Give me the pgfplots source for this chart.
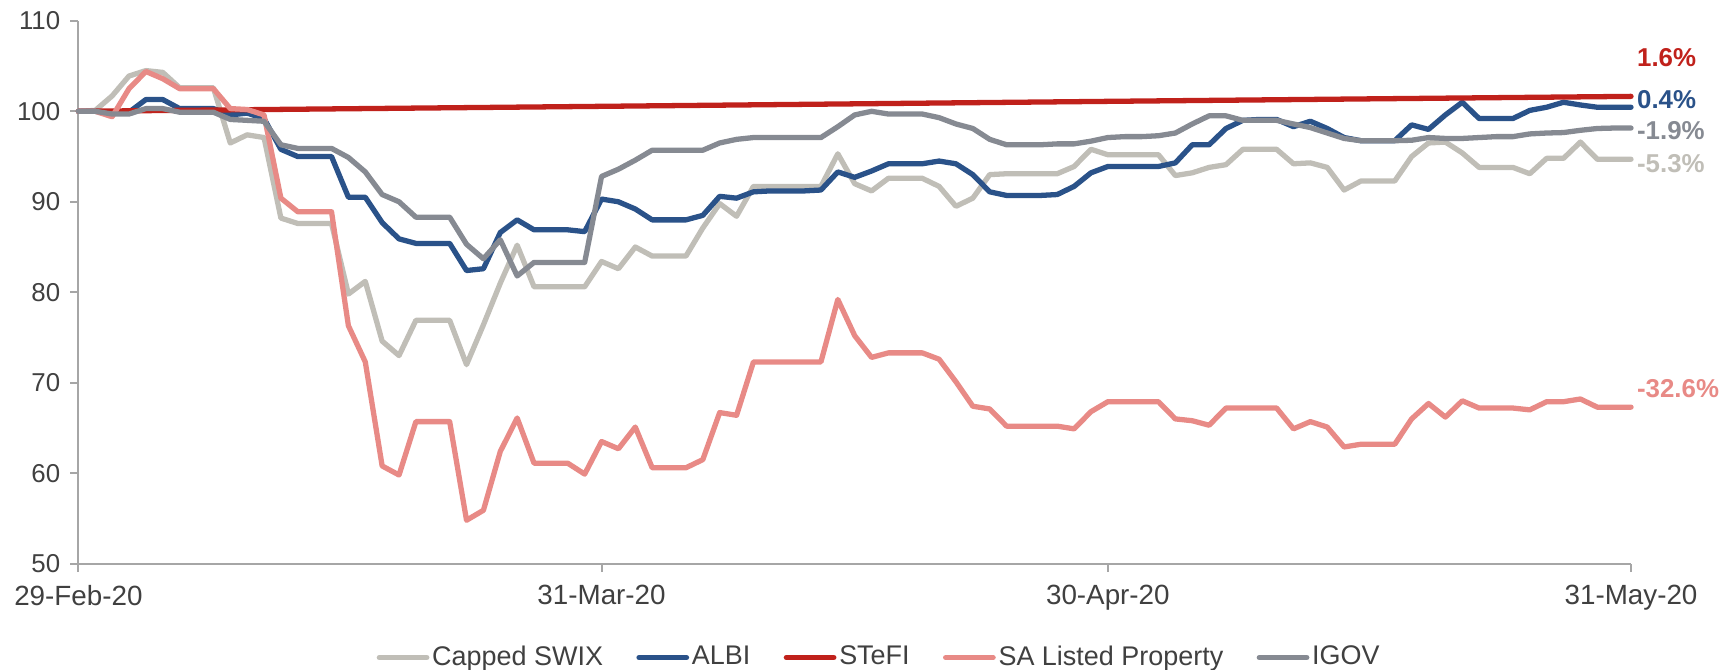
\documentclass[border=0pt]{standalone}
\usepackage{fontspec}
\setmainfont{Liberation Sans}
\usepackage{pgfplots}
\usepackage{pgfplotstable}
\pgfplotsset{compat=1.18}

\definecolor{swix}{HTML}{C0BEB7}
\definecolor{albi}{HTML}{2A5289}
\definecolor{stefi}{HTML}{C0211B}
\definecolor{prop}{HTML}{E88A86}
\definecolor{igov}{HTML}{868A92}
\definecolor{axisgrey}{HTML}{A6A6A6}
\definecolor{labelgrey}{HTML}{404040}

% day index from 29-Feb-20 (0) to 31-May-20 (92)
\pgfplotstableread{
d   swix   albi    prop  igov
0   100.0  100.0   100.0 100.0
1   100.1  100.0   100.0 100.0
2   101.7  99.8    99.4  99.7
3   103.9  99.9    102.5 99.7
4   104.5  101.3   104.4 100.3
5   104.3  101.3   103.6 100.3
6   102.6  100.3   102.5 99.9
7   102.6  100.3   102.5 99.9
8   102.6  100.3   102.5 99.9
9   96.5   99.6    100.3 99.1
10  97.4   99.8    100.2 99.0
11  97.1   99.2    99.6  98.9
12  88.2   95.8    90.4  96.3
13  87.6   95.0    88.9  95.9
14  87.6   95.0    88.9  95.9
15  87.6   95.0    88.9  95.9
16  79.8   90.5    76.3  94.9
17  81.2   90.5    72.3  93.3
18  74.6   87.7    60.8  90.8
19  73.0   85.9    59.8  90.0
20  76.9   85.4    65.7  88.3
21  76.9   85.4    65.7  88.3
22  76.9   85.4    65.7  88.3
23  72.0   82.4    54.8  85.3
24  76.4   82.6    55.9  83.7
25  81.0   86.6    62.4  85.8
26  85.2   88.0    66.1  81.8
27  80.6   86.9    61.1  83.3
28  80.6   86.9    61.1  83.3
29  80.6   86.9    61.1  83.3
30  80.6   86.7    59.9  83.3
31  83.4   90.3    63.5  92.8
32  82.6   90.0    62.7  93.6
33  85.0   89.2    65.1  94.6
34  84.0   88.0    60.6  95.7
35  84.0   88.0    60.6  95.7
36  84.0   88.0    60.6  95.7
37  87.1   88.5    61.5  95.7
38  89.8   90.6    66.7  96.5
39  88.4   90.4    66.4  96.9
40  91.7   91.1    72.3  97.1
41  91.7   91.2    72.3  97.1
42  91.7   91.2    72.3  97.1
43  91.7   91.2    72.3  97.1
44  91.7   91.3    72.3  97.1
45  95.3   93.3    79.2  98.3
46  92.0   92.7    75.2  99.6
47  91.2   93.4    72.8  100.0
48  92.6   94.2    73.3  99.7
49  92.6   94.2    73.3  99.7
50  92.6   94.2    73.3  99.7
51  91.7   94.5    72.6  99.3
52  89.5   94.2    70.1  98.6
53  90.4   93.0    67.4  98.1
54  93.0   91.1    67.1  96.9
55  93.1   90.7    65.2  96.3
56  93.1   90.7    65.2  96.3
57  93.1   90.7    65.2  96.3
58  93.1   90.8    65.2  96.4
59  93.9   91.7    64.9  96.4
60  95.8   93.2    66.8  96.7
61  95.2   93.9    67.9  97.1
62  95.2   93.9    67.9  97.2
63  95.2   93.9    67.9  97.2
64  95.2   93.9    67.9  97.3
65  92.9   94.3    66.0  97.6
66  93.2   96.3    65.8  98.6
67  93.8   96.3    65.3  99.5
68  94.1   98.1    67.2  99.5
69  95.8   99.0    67.2  99.0
70  95.8   99.1    67.2  99.0
71  95.8   99.1    67.2  99.0
72  94.2   98.3    64.9  98.6
73  94.3   98.9    65.7  98.2
74  93.8   98.1    65.1  97.6
75  91.3   97.1    62.9  97.0
76  92.3   96.75   63.2  96.75
77  92.3   96.75   63.2  96.75
78  92.3   96.75   63.2  96.75
79  95.0   98.5    66.0  96.8
80  96.5   98.0    67.7  97.1
81  96.6   99.6    66.2  97.0
82  95.4   101.0   68.0  97.0
83  93.8   99.2    67.2  97.1
84  93.8   99.2    67.2  97.2
85  93.8   99.2    67.2  97.2
86  93.1   100.1   67.0  97.5
87  94.8   100.45  67.9  97.6
88  94.8   101.0   67.9  97.65
89  96.6   100.7   68.2  97.9
90  94.7   100.45  67.3  98.1
91  94.7   100.45  67.3  98.15
92  94.7   100.45  67.3  98.15
}\indices

\begin{document}
\begin{tikzpicture}
\begin{axis}[
    scale only axis,
    width=558.6pt, height=195.3pt,
    xmin=0, xmax=92, ymin=50, ymax=110,
    axis x line*=bottom, axis y line*=left,
    axis line style={draw=axisgrey, line width=0.7pt},
    xtick={0,31,61,92},
    xticklabels={29-Feb-20,31-Mar-20,30-Apr-20,31-May-20},
    ytick={50,60,...,110},
    tick align=outside, major tick length=3pt,
    tick style={draw=axisgrey, line width=0.7pt},
    yticklabel style={font=\fontsize{9.3}{11}\selectfont, text=labelgrey},
    xticklabel style={font=\fontsize{10}{12}\selectfont, text=labelgrey, yshift=-1.2pt},
    /pgf/number format/assume math mode=true,
    clip=false,
    legend columns=5,
    legend cell align=left,
    legend style={at={(0.516,-0.173)}, anchor=center, draw=none, fill=none,
        inner sep=0pt, nodes={inner sep=1pt},
        font=\fontsize{9.7}{11}\selectfont, text=labelgrey,
        /tikz/every even column/.append style={column sep=11pt}},
    every axis plot/.append style={line width=1.9pt, line join=round, line cap=round},
]
\addplot[swix] table[x=d, y=swix] {\indices};
\addlegendentry{Capped SWIX}
\addplot[albi] table[x=d, y=albi] {\indices};
\addlegendentry{ALBI}
\addplot[stefi] coordinates {(0,100) (31,100.55) (61,101.1) (92,101.65)};
\addlegendentry{STeFI}
\addplot[prop] table[x=d, y=prop] {\indices};
\addlegendentry{SA Listed Property}
\addplot[igov] table[x=d, y=igov] {\indices};
\addlegendentry{IGOV}

\begin{scope}[every node/.style={anchor=west, inner sep=0pt, xshift=2pt,
    font=\fontsize{9.3}{11}\selectfont\bfseries}]
\node[text=stefi] at (axis cs:92,105.9) {1.6\%};
\node[text=albi] at (axis cs:92,101.25) {0.4\%};
\node[text=igov] at (axis cs:92,97.9) {-1.9\%};
\node[text=swix] at (axis cs:92,94.25) {-5.3\%};
\node[text=prop] at (axis cs:92,69.4) {-32.6\%};
\end{scope}
\end{axis}
\pgfresetboundingbox
\path[use as bounding box] ([shift={(-28.2pt,-37.9pt)}]current axis.south west)
    rectangle ([shift={(33.1pt,7.5pt)}]current axis.north east);
\end{tikzpicture}
\end{document}
